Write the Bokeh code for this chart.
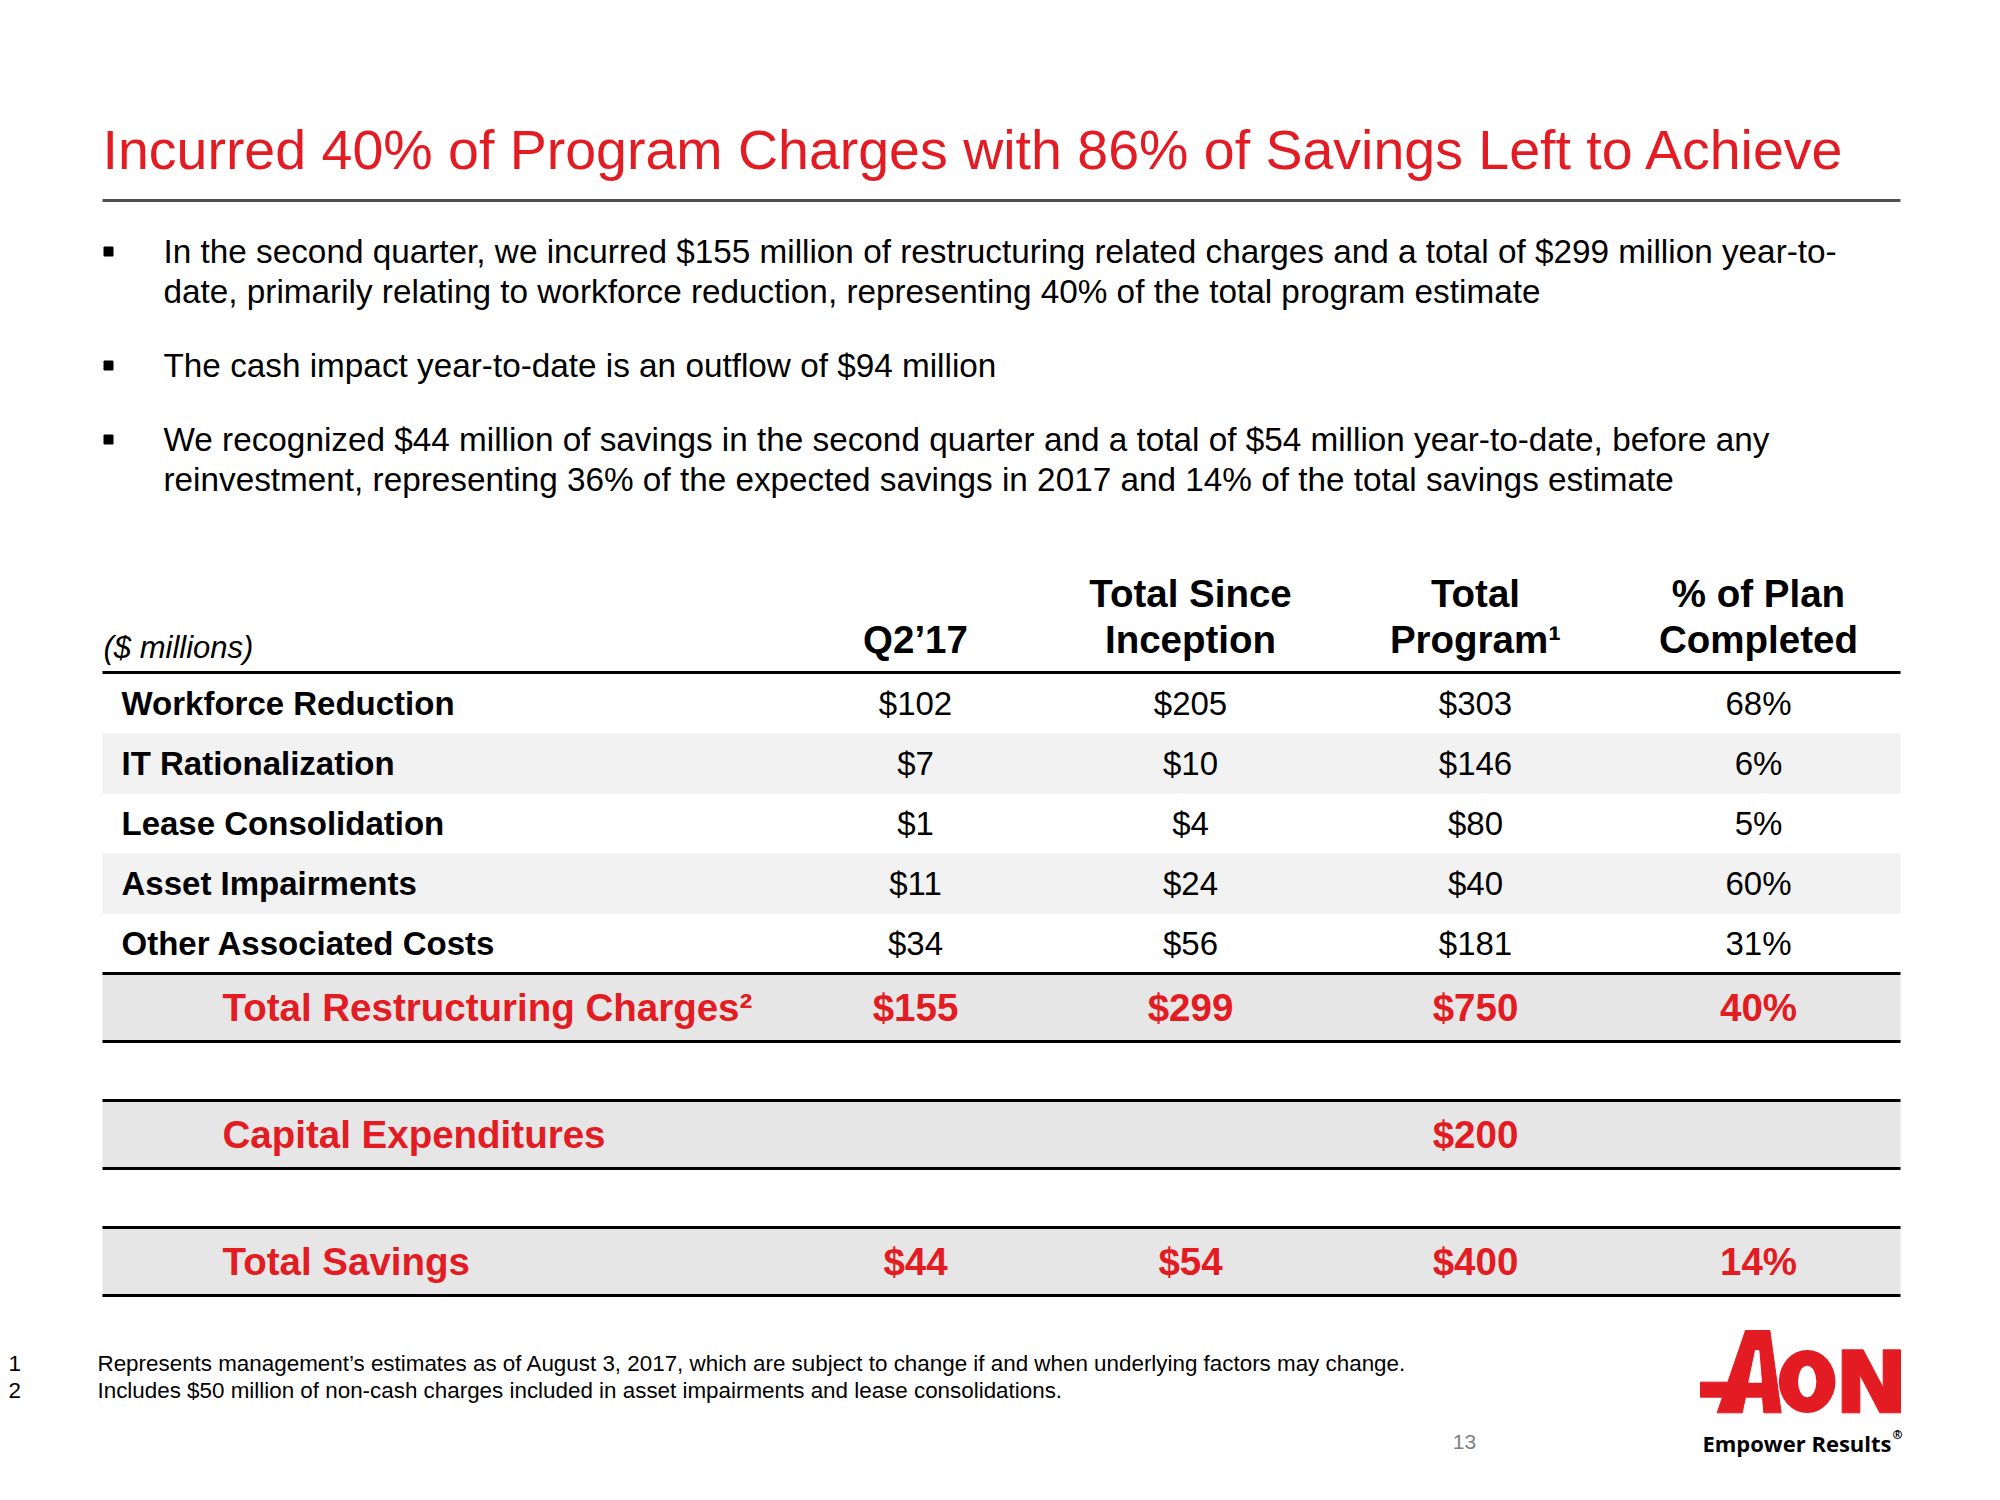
from bokeh.plotting import figure
from bokeh.models import Range1d
from bokeh.embed import file_html
from bokeh.resources import INLINE
from bokeh.core.properties import value

# ---------------- data ----------------
title_text = "Incurred 40% of Program Charges with 86% of Savings Left to Achieve"
bullets = [
    ["In the second quarter, we incurred $155 million of restructuring related charges and a total of $299 million year-to-",
     "date, primarily relating to workforce reduction, representing 40% of the total program estimate"],
    ["The cash impact year-to-date is an outflow of $94 million"],
    ["We recognized $44 million of savings in the second quarter and a total of $54 million year-to-date, before any",
     "reinvestment, representing 36% of the expected savings in 2017 and 14% of the total savings estimate"],
]
unit_label = "($ millions)"
col_head_1 = ["", "Total Since", "Total", "% of Plan"]
col_head_2 = ["Q2\u201917", "Inception", "Program\u00b9", "Completed"]

categories = ["Workforce Reduction", "IT Rationalization", "Lease Consolidation",
              "Asset Impairments", "Other Associated Costs"]
q2_17 = [102, 7, 1, 11, 34]
since_inception = [205, 10, 4, 24, 56]
total_program = [303, 146, 80, 40, 181]
pct_completed = [68, 6, 5, 60, 31]

summary_labels = ["Total Restructuring Charges\u00b2", "Capital Expenditures", "Total Savings"]
summary_q2_17 = [155, None, 44]
summary_since = [299, None, 54]
summary_program = [750, 200, 400]
summary_pct = [40, None, 14]

footnote_nums = ["1", "2"]
footnotes = [
    "Represents management\u2019s estimates as of August 3, 2017, which are subject to change if and when underlying factors may change.",
    "Includes $50 million of non-cash charges included in asset impairments and lease consolidations.",
]
page_number = "13"
tagline = "Empower Results"

# ---------------- style / layout ----------------
RED = "#E31B23"
FONT = value("Liberation Sans")
W, H = 1984, 1484

p = figure(width=W, height=H, x_range=Range1d(0, W), y_range=Range1d(H, 0),
           output_backend="svg", toolbar_location=None, min_border=0,
           x_axis_location=None, y_axis_location=None)
p.grid.visible = False
p.outline_line_color = None
p.background_fill_color = "white"
p.border_fill_color = "white"

def money(v):
    return "" if v is None else "$%d" % v

def pct(v):
    return "" if v is None else "%d%%" % v

# title + rule
p.text(x=[102], y=[149], text=[title_text], text_font=FONT, text_font_size="55.5px",
       text_color=RED, text_baseline="middle", text_align="left")
p.segment(x0=[102], y0=[200], x1=[1900], y1=[200], line_color="#505050", line_width=3)

# bullets
bx, by, btxt, mark_y = [], [], [], []
y = 251
for para in bullets:
    mark_y.append(y)
    for line in para:
        bx.append(163); by.append(y); btxt.append(line)
        y += 40
    y += 34
p.text(x=bx, y=by, text=btxt, text_font=FONT, text_font_size="33.3px", text_color="black",
       text_baseline="middle", text_align="left")
p.scatter(x=[108] * len(mark_y), y=mark_y, marker="square", size=9, color="black")

# table geometry
TL, TR = 102, 1900
col_x = [915, 1190, 1475, 1758]
HEAD_Y1, HEAD_Y2 = 593, 639
HEAD_LINE = 672
ROW_TOP, ROW_H = 673, 60
BLOCK_TOP0, BLOCK_STEP, BLOCK_H = 973, 127, 68

# header
p.text(x=[103], y=[647], text=[unit_label], text_font=FONT, text_font_size="31px",
       text_font_style="italic", text_baseline="middle", text_align="left", text_color="black")
p.text(x=col_x, y=[HEAD_Y1] * 4, text=col_head_1, text_font=FONT, text_font_size="38.5px",
       text_font_style="bold", text_baseline="middle", text_align="center", text_color="black")
p.text(x=col_x, y=[HEAD_Y2] * 4, text=col_head_2, text_font=FONT, text_font_size="38.5px",
       text_font_style="bold", text_baseline="middle", text_align="center", text_color="black")

# alternating row bands
n = len(categories)
alt = [i for i in range(n) if i % 2 == 1]
p.quad(left=[TL] * len(alt), right=[TR] * len(alt),
       top=[ROW_TOP + ROW_H * i for i in alt], bottom=[ROW_TOP + ROW_H * (i + 1) for i in alt],
       fill_color="#F2F2F2", line_color=None)

row_y = [ROW_TOP + ROW_H * i + ROW_H / 2 for i in range(n)]
p.text(x=[121] * n, y=row_y, text=categories, text_font=FONT, text_font_size="33px",
       text_font_style="bold", text_baseline="middle", text_align="left", text_color="black")
cols = [[money(v) for v in q2_17], [money(v) for v in since_inception],
        [money(v) for v in total_program], [pct(v) for v in pct_completed]]
for cx, vals in zip(col_x, cols):
    p.text(x=[cx] * n, y=row_y, text=vals, text_font=FONT, text_font_size="33px",
           text_baseline="middle", text_align="center", text_color="black")

# summary blocks
m = len(summary_labels)
btops = [BLOCK_TOP0 + BLOCK_STEP * k for k in range(m)]
bbots = [t + BLOCK_H for t in btops]
p.quad(left=[TL] * m, right=[TR] * m, top=btops, bottom=bbots, fill_color="#E6E6E6", line_color=None)
by_mid = [t + BLOCK_H / 2 for t in btops]
p.text(x=[222] * m, y=by_mid, text=summary_labels, text_font=FONT, text_font_size="38.5px",
       text_font_style="bold", text_baseline="middle", text_align="left", text_color=RED)
scols = [[money(v) for v in summary_q2_17], [money(v) for v in summary_since],
         [money(v) for v in summary_program], [pct(v) for v in summary_pct]]
for cx, vals in zip(col_x, scols):
    p.text(x=[cx] * m, y=by_mid, text=vals, text_font=FONT, text_font_size="38.5px",
           text_font_style="bold", text_baseline="middle", text_align="center", text_color=RED)

# rules
ly = [HEAD_LINE] + btops + bbots
p.segment(x0=[TL] * len(ly), y0=ly, x1=[TR] * len(ly), y1=ly, line_color="black", line_width=3)

# footnotes
fy = [1363, 1390]
p.text(x=[8, 8], y=fy, text=footnote_nums, text_font=FONT, text_font_size="22.4px",
       text_baseline="middle", text_align="left", text_color="black")
p.text(x=[97, 97], y=fy, text=footnotes, text_font=FONT, text_font_size="22.4px",
       text_baseline="middle", text_align="left", text_color="black")
p.text(x=[1464], y=[1441], text=[page_number], text_font=FONT, text_font_size="21px",
       text_baseline="middle", text_align="center", text_color="#808080")

# logo (decorative shapes, drawn in a local 3x logo frame)
LX0, LY0, LS = 1500, 1300, 3.0
def lp(pts):
    return [LX0 + a / LS for a, b in pts], [LY0 + b / LS for a, b in pts]

A_outline = [(735, 90), (808, 90), (842, 337), (790, 337), (786, 290), (735, 290),
             (725, 337), (650, 337), (666, 290), (600, 290), (600, 245), (682, 245)]
A_counter = [(765, 150), (775, 150), (783, 245), (745, 245)]
N_outline = [(1025, 148), (1088, 148), (1148, 262), (1148, 148), (1200, 148), (1200, 337),
             (1138, 337), (1078, 222), (1078, 337), (1025, 337)]
ax, ay = lp(A_outline)
nx, ny = lp(N_outline)
p.patches(xs=[ax, nx], ys=[ay, ny], fill_color=RED, line_color=RED, line_width=1)
cx_, cy_ = lp(A_counter)
p.patch(x=cx_, y=cy_, fill_color="white", line_color="white", line_width=1)
p.ellipse(x=[LX0 + 920 / LS], y=[LY0 + 243 / LS], width=[170 / LS], height=[190 / LS],
          fill_color=RED, line_color=None)
p.ellipse(x=[LX0 + 920 / LS], y=[LY0 + 243 / LS], width=[55 / LS], height=[95 / LS],
          fill_color="white", line_color=None)

p.text(x=[1891], y=[1442], text=[tagline], text_font=value("Open Sans"),
       text_font_size="22px", text_font_style="bold", text_baseline="middle",
       text_align="right", text_color="black")
p.text(x=[1892], y=[1434], text=["\u00ae"], text_font=value("Open Sans"),
       text_font_size="12px", text_font_style="bold", text_baseline="middle",
       text_align="left", text_color="black")

open("out.html", "w").write(file_html(p, INLINE))
